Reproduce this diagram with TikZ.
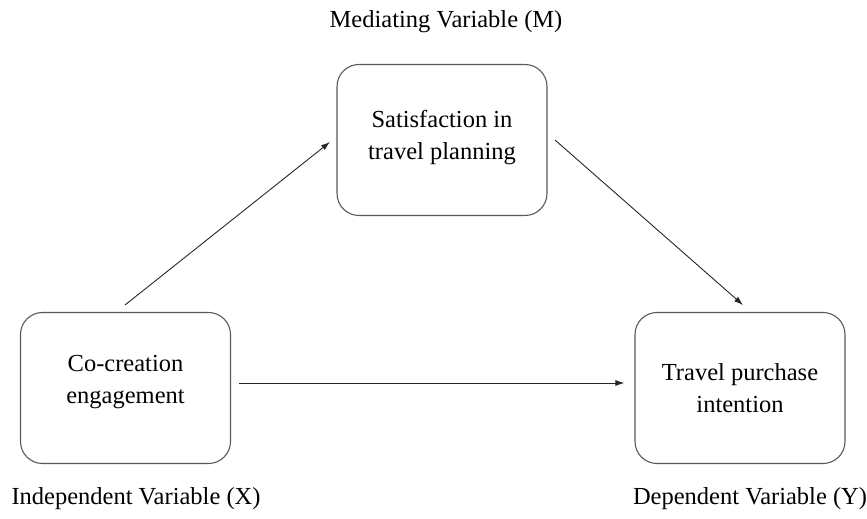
\documentclass[tikz,border=0pt]{standalone}
\usepackage{fontspec}
\setmainfont{Liberation Serif}
\usetikzlibrary{arrows.meta}
\begin{document}
\begin{tikzpicture}[x=1pt,y=1pt,
  varbox/.style={draw=black!65, line width=1.1pt, rounded corners=22pt, minimum width=210pt, minimum height=151pt, inner sep=0pt},
  boxtext/.style={align=center, font=\fontsize{24.5}{32}\selectfont, inner sep=0pt},
  lbl/.style={font=\fontsize{24.5}{28}\selectfont, inner sep=0pt},
  conn/.style={draw=black!85, line width=0.9pt, -{Latex[length=9pt,width=6pt]}}]
\useasboundingbox (0,0) rectangle (867,519);
\node[varbox] (x) at (125.5,131) {};
\node[boxtext] (xt) at (125.5,137) {Co-creation\\engagement};
\node[varbox] (m) at (442,379) {};
\node[boxtext] (mt) at (442,381) {Satisfaction in\\travel planning};
\node[varbox] (y) at (740,131) {};
\node[boxtext] (yt) at (740,131) {Travel purchase\\intention};
\node[lbl] (lx) at (136,20) {Independent Variable (X)};
\node[lbl] (lm) at (446,497) {Mediating Variable (M)};
\node[lbl] (ly) at (750,20) {Dependent Variable (Y)};
\coordinate (xs) at (125,214);
\coordinate (xe) at (330,377);
\coordinate (ms) at (555,379);
\coordinate (me) at (743,214);
\draw[conn] (xs) -- (xe);
\draw[conn] (ms) -- (me);
\draw[conn] (x.east) ++(8,5) -- ([xshift=-10pt,yshift=5pt]y.west);
\end{tikzpicture}
\end{document}
